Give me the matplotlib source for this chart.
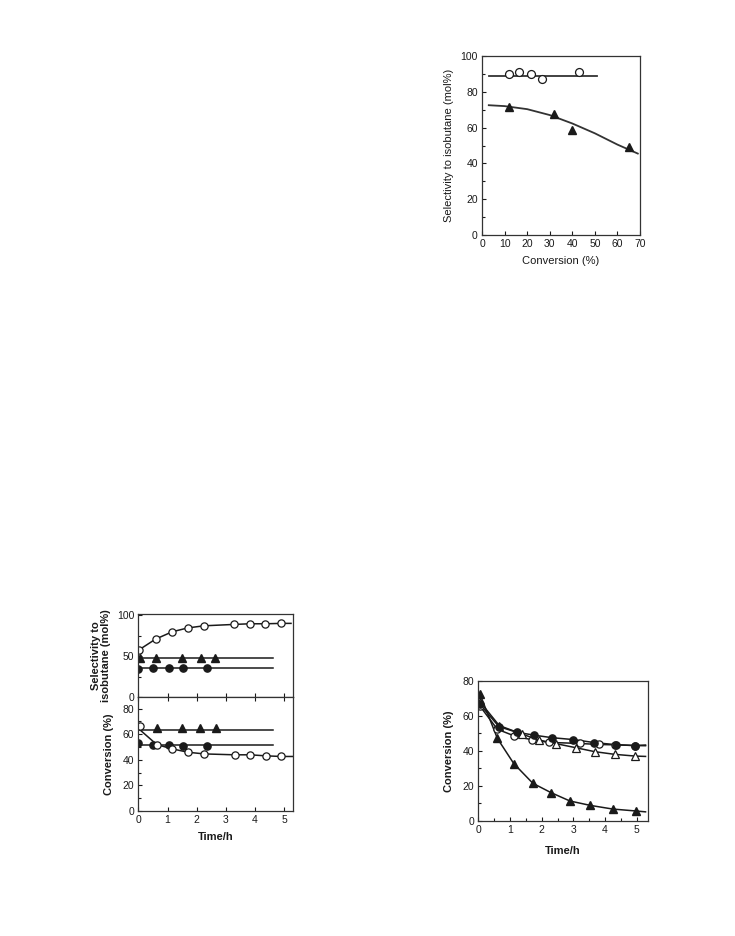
import matplotlib
matplotlib.use("Agg")
import matplotlib.pyplot as plt
from matplotlib.ticker import MultipleLocator

plt.rcParams['font.family'] = ['Liberation Sans', 'DejaVu Sans']
plt.rcParams['font.size'] = 8

# --- panel A: selectivity vs conversion ---
a_circ_x = [12, 16.5, 21.5, 26.5, 43]
a_circ_y = [90, 91, 90, 87, 91]
a_circ_fit_x = [3, 51]
a_circ_fit_y = [89, 89]
a_tri_x = [12, 32, 40, 65]
a_tri_y = [71.5, 67.5, 58.5, 49]
a_tri_fit_x = [3, 10, 20, 30, 40, 50, 60, 69]
a_tri_fit_y = [72.5, 72, 70.3, 67, 62.3, 56.8, 50.5, 45.5]

# --- panel B: time on stream, selectivity (top) and conversion (bottom) ---
b_oc_x = [0.02, 0.59, 1.16, 1.69, 2.24, 3.27, 3.82, 4.35, 4.9, 5.23]
b_oc_sel = [57.7, 70.9, 79.9, 84.6, 87.2, 88.9, 89.7, 89.7, 90.2, 90.2]
b_tri_x = [0.06, 0.61, 1.48, 2.13, 2.64]
b_tri_sel = [48, 48, 48, 48, 48]
b_fc_x = [0.0, 0.51, 1.05, 1.53, 2.34]
b_fc_sel = [34, 35, 35, 35, 35]
b_flat_x = [0, 4.62]
b_tri_sel_line = [47.4, 47.4]
b_fc_sel_line = [35, 35]

b_oc_conv_x = [0.06, 0.63, 1.17, 1.7, 2.26, 3.3, 3.83, 4.36, 4.9, 5.28]
b_oc_conv = [66.6, 51.9, 48.5, 45.9, 44.6, 43.9, 43.9, 43.1, 42.6, 42.6]
b_oc_conv_line_x = [0.0, 0.63, 1.17, 1.7, 2.26, 3.3, 3.83, 4.36, 4.9, 5.28]
b_oc_conv_line = [64.5, 51.9, 48.5, 45.9, 44.6, 43.9, 43.9, 43.1, 42.6, 42.6]
b_tri_conv_x = [0.63, 1.48, 2.11, 2.65]
b_tri_conv = [65, 65, 65, 65]
b_fc_conv_x = [0.0, 0.51, 1.06, 1.53, 2.35]
b_fc_conv = [52.9, 51.9, 51.9, 51.1, 51.1]
b_tri_conv_line = [63.5, 63.5]
b_fc_conv_line = [51.9, 51.9]

# --- panel C: conversion vs time ---
c_ft_x = [0.05, 0.6, 1.12, 1.72, 2.29, 2.89, 3.53, 4.24, 4.97]
c_ft_y = [72.4, 47.1, 32.7, 21.5, 16.2, 11.4, 8.9, 6.8, 5.7]
c_fc_x = [0.05, 0.65, 1.21, 1.77, 2.32, 3.0, 3.66, 4.34, 4.95]
c_fc_y = [66.5, 53.8, 50.6, 48.9, 47.5, 46.4, 44.7, 43.5, 43.0]
c_oc_x = [0.05, 0.6, 1.12, 1.71, 2.23, 3.2, 3.8, 4.33, 4.95]
c_oc_y = [65.5, 52.3, 48.6, 46.2, 44.8, 44.2, 43.6, 43.4, 43.0]
c_ot_x = [0.05, 0.66, 1.37, 1.9, 2.45, 3.07, 3.68, 4.3, 4.95]
c_ot_y = [68, 54.4, 49.6, 46.2, 44.1, 41.8, 39.5, 38.0, 37.0]
c_end_x = 5.28
c_end_ft = 5.2
c_end_fc = 43.3
c_end_oc = 42.9
c_end_ot = 36.8

K = '#1a1a1a'
ms = 5.2
TS = 7.5   # tick label size
LS = 8     # axis label size


def style(ax):
    ax.tick_params(direction='in', which='both', colors=K, length=3, width=0.8,
                   labelsize=TS, pad=3)
    ax.tick_params(which='minor', length=2)
    for s in ax.spines.values():
        s.set_linewidth(0.9)
        s.set_color('#333333')


fig = plt.figure(figsize=(7.35, 9.36), dpi=100)

# Panel A
ax = fig.add_axes([0.6558, 0.7489, 0.2150, 0.1913])
ax.plot(a_circ_fit_x, a_circ_fit_y, color='#333333', lw=1.3)
ax.plot(a_tri_fit_x, a_tri_fit_y, color='#333333', lw=1.3)
ax.plot(a_circ_x, a_circ_y, 'o', mfc='white', mec=K, ms=ms + 0.5, mew=0.9)
ax.plot(a_tri_x, a_tri_y, '^', color=K, ms=ms)
ax.set_xlim(0, 70)
ax.set_ylim(0, 100)
ax.xaxis.set_major_locator(MultipleLocator(10))
ax.yaxis.set_major_locator(MultipleLocator(20))
ax.yaxis.set_minor_locator(MultipleLocator(10))
ax.set_xlabel('Conversion (%)', fontsize=LS, color=K, labelpad=5)
ax.set_ylabel('Selectivity to isobutane (mol%)', fontsize=LS, color=K, labelpad=5)
style(ax)

# Panel B top
ax1 = fig.add_axes([0.1882, 0.2553, 0.2105, 0.0890])
ax1.plot(b_oc_x, b_oc_sel, '-', color=K, lw=1.1)
ax1.plot(b_flat_x, b_tri_sel_line, '-', color=K, lw=1.1)
ax1.plot(b_flat_x, b_fc_sel_line, '-', color=K, lw=1.1)
ax1.plot(b_oc_x[:-1], b_oc_sel[:-1], 'o', mfc='white', mec=K, ms=ms, mew=0.9)
ax1.plot(b_tri_x, b_tri_sel, '^', color=K, ms=ms)
ax1.plot(b_fc_x, b_fc_sel, 'o', color=K, ms=ms)
ax1.set_xlim(0, 5.3)
ax1.set_ylim(0, 102)
ax1.set_yticks([0, 50, 100])
ax1.yaxis.set_minor_locator(MultipleLocator(25))
ax1.xaxis.set_major_locator(MultipleLocator(1))
ax1.set_ylabel('Selectivity to\nisobutane (mol%)', fontsize=LS, fontweight='bold',
               color=K, labelpad=4, linespacing=1.0)
style(ax1)
ax1.tick_params(labelbottom=False)

# Panel B bottom
ax2 = fig.add_axes([0.1882, 0.1335, 0.2105, 0.1218])
ax2.plot(b_oc_conv_line_x, b_oc_conv_line, '-', color=K, lw=1.1)
ax2.plot(b_flat_x, b_tri_conv_line, '-', color=K, lw=1.1)
ax2.plot(b_flat_x, b_fc_conv_line, '-', color=K, lw=1.1)
ax2.plot(b_fc_conv_x, b_fc_conv, 'o', color=K, ms=ms)
ax2.plot(b_tri_conv_x, b_tri_conv, '^', color=K, ms=ms)
ax2.plot(b_oc_conv_x[:-1], b_oc_conv[:-1], 'o', mfc='white', mec=K, ms=ms, mew=0.9)
ax2.set_xlim(0, 5.3)
ax2.set_ylim(0, 89)
ax2.yaxis.set_major_locator(MultipleLocator(20))
ax2.yaxis.set_minor_locator(MultipleLocator(10))
ax2.xaxis.set_major_locator(MultipleLocator(1))
ax2.set_xlabel('Time/h', fontsize=LS, fontweight='bold', color=K, labelpad=5)
ax2.set_ylabel('Conversion (%)', fontsize=LS, fontweight='bold', color=K, labelpad=6)
style(ax2)
ax2.tick_params(top=True, which='major')

# Panel C
ax3 = fig.add_axes([0.6508, 0.1229, 0.2305, 0.1499])
series_c = [
    (c_ot_x, c_ot_y, c_end_ot, '^', False),
    (c_oc_x, c_oc_y, c_end_oc, 'o', False),
    (c_fc_x, c_fc_y, c_end_fc, 'o', True),
    (c_ft_x, c_ft_y, c_end_ft, '^', True),
]
for xs, ys, end, mk, filled in series_c:
    ax3.plot(list(xs) + [c_end_x], list(ys) + [end], '-', color=K, lw=1.1)
for xs, ys, end, mk, filled in series_c:
    if filled:
        ax3.plot(xs, ys, mk, color=K, ms=ms)
    else:
        ax3.plot(xs, ys, mk, mfc='white', mec=K, ms=ms, mew=0.9)
ax3.set_xlim(0, 5.35)
ax3.set_ylim(0, 80)
ax3.xaxis.set_major_locator(MultipleLocator(1))
ax3.xaxis.set_minor_locator(MultipleLocator(0.5))
ax3.yaxis.set_major_locator(MultipleLocator(20))
ax3.yaxis.set_minor_locator(MultipleLocator(10))
ax3.set_xlabel('Time/h', fontsize=LS, fontweight='bold', color=K, labelpad=8)
ax3.set_ylabel('Conversion (%)', fontsize=LS, fontweight='bold', color=K, labelpad=6)
style(ax3)

fig.savefig('out.png', dpi=100)
